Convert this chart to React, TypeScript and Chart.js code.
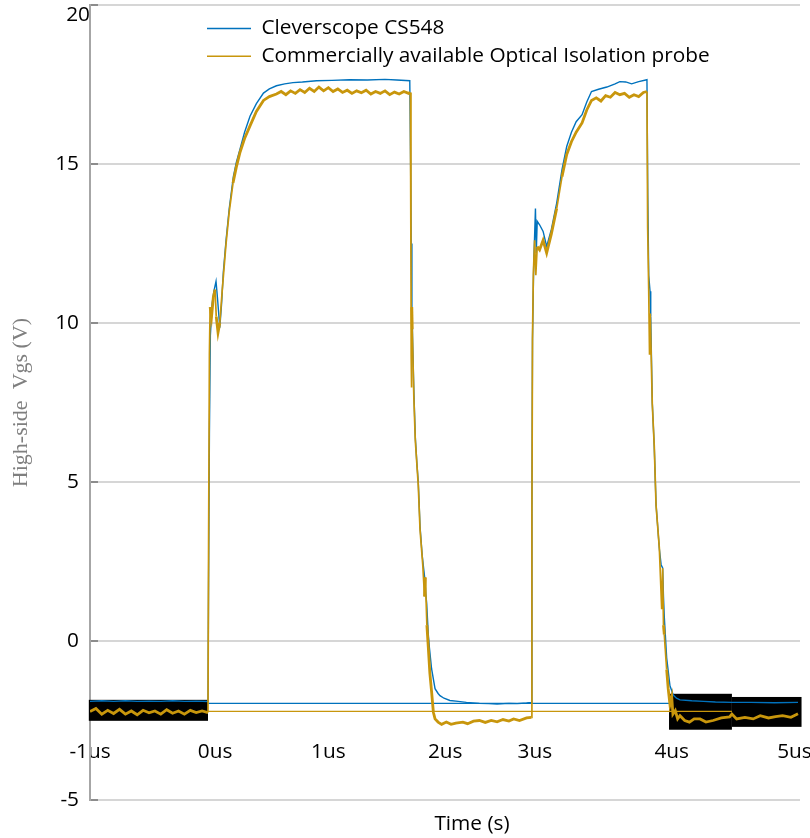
import React, { useEffect, useRef } from "react";
import { Chart, registerables } from "chart.js";

Chart.register(...registerables);

// ---- data (time in microseconds, voltage in volts) ----
const seriesNames = ["Cleverscope CS548", "Commercially available Optical Isolation probe"];
const xTickValues = [-1, 0.06, 1.02, 2.01, 2.77, 3.93, 4.97];
const xTickLabels = ["-1us", "0us", "1us", "2us", "3us", "4us", "5us"];
const yTickValues = [-5, 0, 5, 10, 15, 20];

const cleverscopeTrace: [number, number][] = [
  [-1.0, -1.9], [-0.9, -1.88], [-0.8, -1.9], [-0.7, -1.88], [-0.6, -1.9], [-0.5, -1.89], [-0.4, -1.9],
  [-0.3, -1.88], [-0.2, -1.9], [-0.1, -1.89], [0.0, -1.9],
  [0.005, 2.0], [0.012, 6.5], [0.02, 9.6], [0.035, 10.6], [0.05, 11.0], [0.068, 11.31], [0.08, 10.8],
  [0.1, 9.85], [0.115, 10.6], [0.13, 11.6], [0.153, 12.6], [0.18, 13.6], [0.215, 14.6], [0.24, 15.05],
  [0.27, 15.45], [0.31, 16.0], [0.356, 16.5], [0.41, 16.9], [0.47, 17.23], [0.52, 17.36], [0.58, 17.46],
  [0.65, 17.52], [0.72, 17.56], [0.8, 17.58], [0.92, 17.62], [1.05, 17.63], [1.2, 17.65], [1.35, 17.64],
  [1.5, 17.66], [1.6, 17.64], [1.71, 17.62],
  [1.717, 15.0], [1.722, 12.5], [1.728, 10.5], [1.735, 9.3], [1.745, 7.8], [1.757, 6.4], [1.77, 5.6],
  [1.782, 5.0], [1.797, 3.6], [1.815, 2.7], [1.83, 2.2], [1.839, 1.9], [1.845, 1.5], [1.853, 1.2],
  [1.867, 0.2], [1.876, -0.2], [1.895, -0.88], [1.924, -1.5], [1.95, -1.65], [1.966, -1.72], [2.0, -1.8],
  [2.05, -1.87], [2.12, -1.9], [2.19, -1.93], [2.3, -1.96], [2.38, -1.97], [2.45, -1.98], [2.55, -1.96],
  [2.62, -1.97], [2.7, -1.95], [2.74, -1.93],
  [2.745, 4.0], [2.75, 9.5], [2.76, 11.8], [2.775, 13.6], [2.782, 12.2], [2.79, 13.2], [2.81, 13.09],
  [2.84, 12.88], [2.87, 12.41], [2.91, 12.94], [2.955, 13.77], [3.0, 14.82], [3.04, 15.55], [3.08, 16.0],
  [3.12, 16.33], [3.17, 16.55], [3.21, 16.95], [3.25, 17.28], [3.31, 17.35], [3.38, 17.42], [3.45, 17.52],
  [3.49, 17.59], [3.54, 17.58], [3.59, 17.52], [3.65, 17.59], [3.72, 17.65],
  [3.727, 14.0], [3.735, 11.5], [3.746, 11.0], [3.752, 10.2], [3.765, 7.5], [3.782, 6.1], [3.797, 4.3],
  [3.825, 2.9], [3.84, 2.4], [3.853, 2.3], [3.86, 1.4], [3.867, 0.75], [3.887, -0.53], [3.915, -1.41],
  [3.943, -1.7], [3.97, -1.8], [4.0, -1.85], [4.1, -1.88], [4.2, -1.9], [4.3, -1.92], [4.44, -1.93],
  [4.6, -1.93], [4.8, -1.94], [5.0, -1.93],
];

const opticalProbeTrace: [number, number][] = [
  [-1.0, -2.22], [-0.95, -2.12], [-0.9, -2.3], [-0.85, -2.18], [-0.8, -2.28], [-0.75, -2.15], [-0.7, -2.3],
  [-0.65, -2.2], [-0.6, -2.32], [-0.55, -2.18], [-0.5, -2.26], [-0.45, -2.2], [-0.4, -2.3], [-0.35, -2.16],
  [-0.3, -2.27], [-0.25, -2.2], [-0.2, -2.3], [-0.15, -2.18], [-0.1, -2.25], [-0.05, -2.2], [0.0, -2.25],
  [0.005, 3.0], [0.012, 9.0], [0.018, 10.5], [0.03, 10.2], [0.045, 10.8], [0.06, 11.05], [0.07, 10.2],
  [0.085, 9.7], [0.1, 10.0], [0.12, 11.0], [0.153, 12.5], [0.18, 13.5], [0.212, 14.4], [0.24, 14.9],
  [0.27, 15.35], [0.31, 15.8], [0.356, 16.2], [0.41, 16.65], [0.47, 17.0], [0.52, 17.12], [0.58, 17.2],
  [0.62, 17.28], [0.66, 17.18], [0.7, 17.3], [0.74, 17.22], [0.78, 17.34], [0.82, 17.25], [0.86, 17.38],
  [0.9, 17.28], [0.94, 17.42], [0.98, 17.3], [1.02, 17.4], [1.06, 17.28], [1.1, 17.36], [1.14, 17.25],
  [1.18, 17.32], [1.22, 17.22], [1.26, 17.3], [1.3, 17.24], [1.34, 17.32], [1.38, 17.2], [1.42, 17.28],
  [1.46, 17.22], [1.5, 17.3], [1.54, 17.18], [1.58, 17.26], [1.62, 17.2], [1.66, 17.28], [1.7, 17.22],
  [1.715, 17.25],
  [1.72, 12.0], [1.722, 9.0], [1.724, 7.97], [1.727, 10.5], [1.731, 9.8], [1.745, 7.6], [1.757, 6.3],
  [1.782, 4.9], [1.797, 3.5], [1.82, 2.4], [1.835, 1.4], [1.842, 2.0], [1.855, 0.5], [1.867, -0.2],
  [1.88, -1.0], [1.895, -1.6], [1.91, -2.24], [1.924, -2.45], [1.95, -2.55], [1.98, -2.62], [2.02, -2.55],
  [2.06, -2.62], [2.1, -2.58], [2.16, -2.55], [2.2, -2.6], [2.25, -2.52], [2.3, -2.5], [2.35, -2.56],
  [2.4, -2.5], [2.45, -2.54], [2.5, -2.47], [2.55, -2.52], [2.59, -2.45], [2.64, -2.5], [2.7, -2.42],
  [2.74, -2.4],
  [2.745, 4.0], [2.75, 9.5], [2.757, 11.5], [2.768, 12.6], [2.778, 11.5], [2.79, 12.4], [2.81, 12.3],
  [2.84, 12.6], [2.87, 12.2], [2.91, 12.8], [2.955, 13.6], [3.0, 14.6], [3.04, 15.3], [3.08, 15.7],
  [3.12, 16.0], [3.17, 16.29], [3.21, 16.7], [3.25, 17.0],
  [3.29, 17.08], [3.33, 16.98], [3.37, 17.15], [3.41, 17.1], [3.45, 17.25], [3.49, 17.18], [3.53, 17.22],
  [3.57, 17.1], [3.61, 17.18], [3.65, 17.12], [3.69, 17.25], [3.72, 17.28],
  [3.726, 13.0], [3.735, 11.0], [3.742, 9.0], [3.748, 10.3], [3.765, 7.47], [3.782, 6.12], [3.797, 4.27],
  [3.825, 2.92], [3.845, 1.0], [3.853, 2.29], [3.86, 0.5], [3.867, 0.2], [3.887, -0.9], [3.9, -1.5],
  [3.915, -2.0], [3.93, -1.76], [3.94, -2.3], [3.96, -2.19], [3.98, -2.45], [4.0, -2.35], [4.04, -2.5],
  [4.08, -2.55], [4.12, -2.45], [4.17, -2.45], [4.22, -2.55], [4.28, -2.5], [4.35, -2.42], [4.42, -2.39],
  [4.44, -2.3], [4.48, -2.45], [4.55, -2.4], [4.62, -2.45], [4.68, -2.35], [4.75, -2.42], [4.81, -2.38],
  [4.87, -2.35], [4.94, -2.4], [5.0, -2.29],
];

const cleverscopeBaseline: [number, number][] = [[0, -1.96], [3.91, -1.96]];
const opticalBaseline: [number, number][] = [[0, -2.21], [4.44, -2.21]];

// black masked regions in the picture, in data units
const maskedRegionsX: [number, number][] = [[-1.01, 0.0], [3.907, 4.44], [4.44, 5.03]];
const maskedRegionsY: [number, number][] = [[-1.85, -2.51], [-1.66, -2.79], [-1.76, -2.7]];

// ---- styles ----
const BLUE = "#0072BD";
const GOLD = "#C8960C";
const FONT = "'Open Sans'";
const FONT_SIZE = 20.8;

const toXY = (pts: [number, number][]) => pts.map(([x, y]) => ({ x, y }));

// thinner stroke on steep edges, thicker (noisy-looking) stroke on flat parts
const goldSegmentWidth = (ctx: any) =>
  Math.abs(ctx.p1.parsed.y - ctx.p0.parsed.y) > 0.8 ? 1.7 : 2.8;

const maskPlugin = {
  id: "maskedRegions",
  beforeDatasetsDraw(chart: any) {
    const { ctx, scales } = chart;
    ctx.save();
    ctx.fillStyle = "#000";
    maskedRegionsX.forEach((xr, i) => {
      const yr = maskedRegionsY[i];
      const x0 = scales.x.getPixelForValue(xr[0]);
      const x1 = scales.x.getPixelForValue(xr[1]);
      const y0 = scales.y.getPixelForValue(yr[0]);
      const y1 = scales.y.getPixelForValue(yr[1]);
      ctx.fillRect(x0, y0, x1 - x0, y1 - y0);
    });
    ctx.restore();
  },
};

const legendShiftPlugin = {
  id: "legendShift",
  afterLayout(chart: any) {
    const lg = chart.legend;
    if (!lg) return;
    lg.left += 110;
    lg.right += 110;
    lg.top += 11;
  },
};

export default function App() {
  const ref = useRef<HTMLCanvasElement | null>(null);

  useEffect(() => {
    document.body.style.margin = "0";
    document.body.style.overflow = "hidden";
    if (!ref.current) return;
    const chart = new Chart(ref.current, {
      type: "line",
      data: {
        datasets: [
          {
            label: seriesNames[0],
            data: toXY(cleverscopeTrace),
            borderColor: BLUE,
            borderWidth: 1.4,
            pointRadius: 0,
            order: 2,
          },
          {
            label: seriesNames[1],
            data: toXY(opticalProbeTrace),
            borderColor: GOLD,
            borderWidth: 2.6,
            segment: { borderWidth: goldSegmentWidth },
            pointRadius: 0,
            order: 1,
          },
          {
            label: "baseline-1",
            data: toXY(cleverscopeBaseline),
            borderColor: BLUE,
            borderWidth: 1.3,
            pointRadius: 0,
            order: 3,
          },
          {
            label: "baseline-2",
            data: toXY(opticalBaseline),
            borderColor: GOLD,
            borderWidth: 1.3,
            pointRadius: 0,
            order: 3,
          },
        ],
      },
      options: {
        animation: false,
        responsive: false,
        devicePixelRatio: 1,
        layout: { padding: { top: 5, right: 10, left: 0, bottom: 0 } },
        elements: { line: { tension: 0 }, point: { radius: 0 } },
        plugins: {
          tooltip: { enabled: false },
          legend: {
            position: "chartArea" as any,
            align: "start",
            labels: {
              font: { family: FONT, size: FONT_SIZE },
              color: "#000",
              padding: 7,
              usePointStyle: true,
              pointStyle: "line",
              pointStyleWidth: 44,
              filter: (item: any) => item.datasetIndex < 2,
              sort: (a: any, b: any) => a.datasetIndex - b.datasetIndex,
              generateLabels: (c: any) =>
                (Chart.defaults.plugins.legend.labels as any)
                  .generateLabels(c)
                  .map((l: any) => ({ ...l, lineWidth: 1.5 })),
            },
          },
        },
        scales: {
          x: {
            type: "linear",
            position: { y: -3.1 } as any,
            min: -1,
            max: 5.017,
            grid: { display: false, drawTicks: false },
            border: { display: false },
            ticks: {
              padding: 0,
              maxRotation: 0,
              font: { family: FONT, size: FONT_SIZE },
              color: "#000",
              callback: (_v: any, i: number) => xTickLabels[i],
            },
            afterBuildTicks: (scale: any) => {
              scale.ticks = xTickValues.map((value) => ({ value }));
            },
            afterFit: (scale: any) => {
              scale.paddingLeft = 0;
              scale.paddingRight = 0;
            },
          },
          x2: {
            type: "linear",
            axis: "x",
            position: "bottom",
            min: -1,
            max: 5.017,
            grid: { display: false, drawTicks: false },
            border: { display: false },
            ticks: { display: false },
            title: {
              display: true,
              text: "          Time (s)",
              font: { family: FONT, size: FONT_SIZE },
              color: "#000",
              padding: { top: 0, bottom: 1 },
            },
            afterFit: (scale: any) => {
              scale.height = 38;
              scale.paddingLeft = 0;
              scale.paddingRight = 0;
            },
          },
          y: {
            type: "linear",
            position: "left",
            min: -5,
            max: 20,
            grid: {
              color: "#d6d6d6",
              lineWidth: 2,
              drawTicks: true,
              tickLength: -8,
              tickColor: "#8c8c8c",
              tickWidth: 2,
            },
            border: { display: true, color: "#a6a6a6", width: 2 },
            ticks: {
              padding: 19,
              font: { family: FONT, size: FONT_SIZE },
              color: "#000",
              callback: (v: any) => (v === 20 ? "" : String(v)),
            },
            afterBuildTicks: (scale: any) => {
              scale.ticks = yTickValues.map((value) => ({ value }));
            },
            title: {
              display: true,
              text: "High-side  Vgs (V)",
              font: { family: "'Liberation Serif'", size: 22 },
              color: "#7f7f7f",
              padding: { top: 8, bottom: 0 },
            },
            afterFit: (scale: any) => {
              scale.width = 90;
              scale.paddingTop = 0;
              scale.paddingBottom = 0;
            },
          },
          y2: {
            type: "linear",
            axis: "y",
            position: { x: -1 } as any,
            min: -5,
            max: 20,
            grid: { display: false, drawTicks: false },
            border: { display: false },
            ticks: {
              padding: 11,
              labelOffset: 10,
              font: { family: FONT, size: FONT_SIZE },
              color: "#000",
              callback: (v: any) => String(v),
            },
            afterBuildTicks: (scale: any) => {
              scale.ticks = [{ value: yTickValues[yTickValues.length - 1] }];
            },
            afterFit: (scale: any) => {
              scale.paddingTop = 0;
              scale.paddingBottom = 0;
            },
          },
        },
      },
      plugins: [maskPlugin, legendShiftPlugin],
    } as any);
    return () => chart.destroy();
  }, []);

  return (
    <div style={{ width: 810, height: 838 }}>
      <canvas ref={ref} width={810} height={838} style={{ display: "block" }} />
    </div>
  );
}
